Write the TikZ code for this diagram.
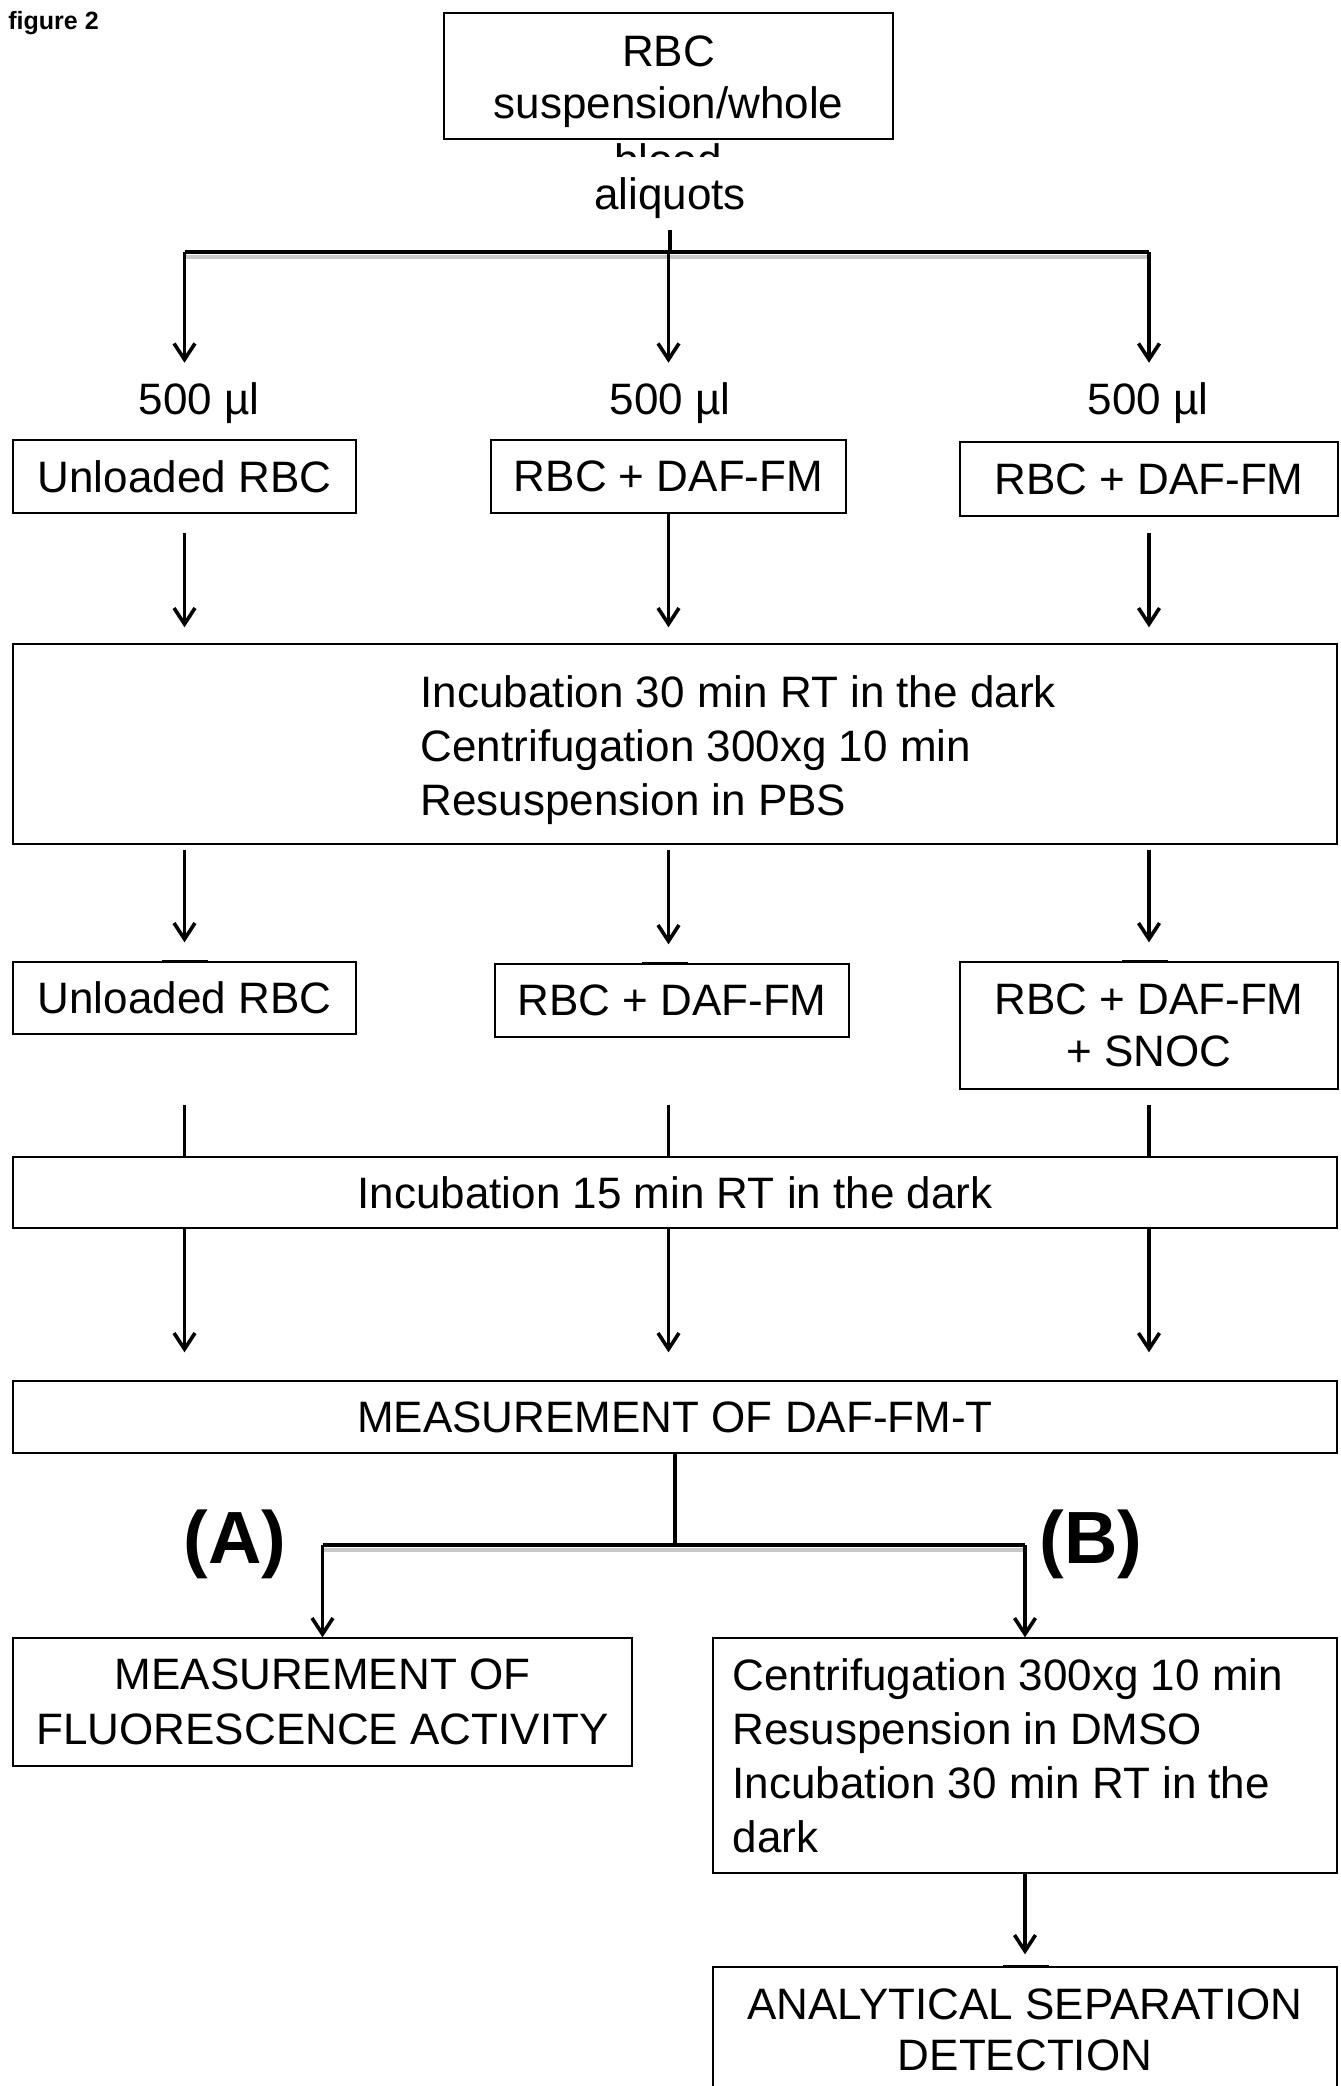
\documentclass[tikz,border=0pt]{standalone}
\usepackage{fontspec}
\setmainfont{Liberation Sans}
\usetikzlibrary{arrows.meta}

\tikzset{
  box/.style={draw, line width=0.7pt, inner sep=0pt, align=center, font=\fontsize{22}{26}\selectfont},
  txt/.style={inner sep=0pt, align=left, font=\fontsize{22}{27}\selectfont},
  arr/.style={line width=1.8pt, -{Straight Barb[length=8pt,width=10.5pt]}},
  line/.style={line width=1.8pt},
  bar/.style={line width=2.2pt},
  barshade/.style={line width=2pt, black!22},
  tick/.style={line width=1.6pt},
  tag/.style={anchor=base, inner sep=0pt, font=\bfseries\fontsize{37}{40}\selectfont}
}

\begin{document}
\begin{tikzpicture}[x=0.5pt, y=-0.5pt]
    \useasboundingbox (0,0) rectangle (1340,2086);
    \node[anchor=base west, inner sep=0pt, font=\bfseries\fontsize{12.5}{15}\selectfont] (fig) at (8,30) {figure 2};

    % sample and aliquots
    \node[box, minimum width=224.5pt, minimum height=63pt] (rbc) at (668.5,76) {};
    \node[txt, align=center, font=\fontsize{22}{26}\selectfont] (rbct) at ([yshift=-3pt]rbc.center) {RBC\\suspension/whole};
    \begin{scope}
      \clip (560,141) rectangle (780,157);
      \node[txt, anchor=base] (blood) at (668,176) {blood};
    \end{scope}
    \node[txt, anchor=base] (aliq) at (670,210) {aliquots};
    \coordinate (split) at (669,252);

    \node[txt, anchor=base] (vol1) at (199,414) {500 µl};
    \node[txt, anchor=base] (vol2) at (670,414) {500 µl};
    \node[txt, anchor=base] (vol3) at (1148,414) {500 µl};

    \node[box, minimum width=171.5pt, minimum height=36.5pt] (r1a) at (184.5,476.5) {Unloaded RBC};
    \node[box, minimum width=177.5pt, minimum height=36.5pt] (r1b) at (668.5,476.5) {RBC + DAF-FM};
    \node[box, minimum width=189pt, minimum height=37pt] (r1c) at (1149,479) {RBC + DAF-FM};

    \coordinate (splitL) at (r1a |- split);
    \coordinate (splitR) at (r1c |- split);
    \draw[line, shorten <=5pt] (aliq.south) -- (aliq.south |- split);
    \draw[barshade] ([yshift=-2.3pt]splitL) -- ([yshift=-2.3pt]splitR);
    \draw[bar] (splitL) -- (splitR);
    \draw[arr, shorten >=9.5pt] (splitL) -- (r1a |- vol1.north);
    \draw[arr, shorten >=9.5pt] (r1b |- split) -- (r1b |- vol2.north);
    \draw[arr, shorten >=9.5pt] (splitR) -- (r1c |- vol3.north);

    % first incubation
    \node[box, minimum width=662pt, minimum height=100pt] (inc1) at (675,744) {};
    \node[txt, anchor=west] (inc1t) at ([xshift=204pt, yshift=-3pt]inc1.west) {Incubation 30 min RT in the dark\\Centrifugation 300xg 10 min\\Resuspension in PBS};
    \draw[arr, shorten <=9.5pt, shorten >=8pt] (r1a.south) -- (r1a.south |- inc1.north);
    \draw[arr, shorten >=8pt] (r1b.south) -- (r1b.south |- inc1.north);
    \draw[arr, shorten <=8pt, shorten >=8pt] (r1c.south) -- (r1c.south |- inc1.north);

    % second row
    \node[box, minimum width=171.5pt, minimum height=36pt] (r2a) at (184.5,998) {Unloaded RBC};
    \node[box, minimum width=177pt, minimum height=36.5pt] (r2b) at (672,1000.5) {RBC + DAF-FM};
    \node[box, minimum width=189pt, minimum height=63.5pt] (r2c) at (1149,1025.5) {RBC + DAF-FM\\+ SNOC};
    \draw[arr, shorten <=2.5pt, shorten >=9.5pt] (inc1.south -| r2a.north) -- (r2a.north);
    \draw[arr, shorten <=2.5pt, shorten >=9.5pt] (inc1.south -| r1b) -- (r1b |- r2b.north);
    \draw[arr, shorten <=2.5pt, shorten >=9.5pt] (inc1.south -| r2c.north) -- (r2c.north);
    \draw[tick] ([xshift=-11.5pt]r2a.north) -- ([xshift=11.5pt]r2a.north);
    \draw[tick] ([xshift=-15pt]r2b.north) -- ([xshift=8pt]r2b.north);
    \draw[tick] ([xshift=-13.5pt]r2c.north) -- ([xshift=9.5pt]r2c.north);

    % second incubation
    \node[box, minimum width=662pt, minimum height=35.5pt] (inc2) at (675,1192.5) {Incubation 15 min RT in the dark};
    \draw[line, shorten <=35pt] (r2a.south) -- (r2a.south |- inc2.north);
    \draw[line, shorten <=33.5pt] (r1b |- r2b.south) -- (r1b |- inc2.north);
    \draw[line, shorten <=7.5pt] (r2c.south) -- (r2c.south |- inc2.north);

    \node[box, minimum width=662pt, minimum height=36pt] (meas) at (675,1417) {MEASUREMENT OF DAF-FM-T};
    \draw[arr, shorten >=14pt] (inc2.south -| r1a) -- (r1a |- meas.north);
    \draw[arr, shorten >=14pt] (inc2.south -| r1b) -- (r1b |- meas.north);
    \draw[arr, shorten >=14pt] (inc2.south -| r1c) -- (r1c |- meas.north);

    % (A) and (B)
    \node[tag] (labA) at (235,1563) {(A)};
    \node[tag] (labB) at (1091,1563) {(B)};
    \node[box, minimum width=309.5pt, minimum height=64pt, font=\fontsize{22}{27.5}\selectfont] (fluor) at (322.5,1702) {MEASUREMENT OF\\FLUORESCENCE ACTIVITY};
    \node[box, minimum width=312pt, minimum height=117.5pt] (centri) at (1025,1755.5) {};
    \node[txt, anchor=west] (centrit) at ([xshift=10pt]centri.west) {Centrifugation 300xg 10 min\\Resuspension in DMSO\\Incubation 30 min RT in the\\dark};

    \coordinate (ab) at (675,1545);
    \coordinate (abL) at (fluor.north |- ab);
    \coordinate (abR) at (centri.north |- ab);
    \draw[line] (meas.south) -- (ab);
    \draw[barshade] ([yshift=-2.3pt]abL) -- ([yshift=-2.3pt]abR);
    \draw[bar] (abL) -- (abR);
    \draw[arr] (abL) -- (fluor.north);
    \draw[arr] (abR) -- (centri.north);

    \node[box, minimum width=312pt, minimum height=63pt, font=\fontsize{22}{25.5}\selectfont] (anal) at (1025,2030) {ANALYTICAL SEPARATION\\DETECTION};
    \draw[arr, shorten >=6pt] (centri.south) -- (anal.north);
    \draw[tick] ([xshift=-11pt]anal.north) -- ([xshift=12pt]anal.north);
\end{tikzpicture}
\end{document}
